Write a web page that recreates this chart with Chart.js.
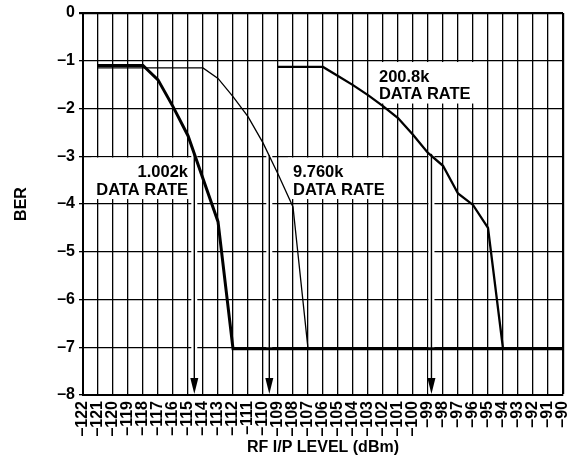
<!DOCTYPE html>
<html lang="en">
<head>
<meta charset="UTF-8">
<title>BER vs RF I/P Level</title>
<script src="https://cdn.jsdelivr.net/npm/chart.js"></script>
<style>
  html, body { margin: 0; padding: 0; background: #fff; }
  #wrap { width: 571px; height: 460px; position: relative; }
</style>
</head>
<body>
<div id="wrap"><canvas id="berChart"></canvas></div>
<script>
// RF input level (dBm) and BER (log10)
const rate1002X = [-121, -118, -117, -116, -115, -113, -112, -90];
const rate1002Y = [-1.1, -1.1, -1.4, -1.96, -2.57, -4.37, -7.03, -7.03];

const rate9760X = [-121, -114, -113, -112, -111, -110, -109, -108, -107];
const rate9760Y = [-1.15, -1.15, -1.37, -1.75, -2.17, -2.72, -3.37, -4.06, -7.03];

const rate2008X = [-109, -106, -105, -104, -103, -102, -101, -100, -99, -98, -97, -96, -95, -94];
const rate2008Y = [-1.13, -1.13, -1.32, -1.51, -1.72, -1.95, -2.2, -2.55, -2.93, -3.2, -3.78, -4.02, -4.5, -7.03];

// sensitivity arrows (x where each curve crosses the marker, from top down to axis)
const arrowX = [-114.58, -109.58, -98.77];
const arrowTop = [-2.95, -2.98, -2.95];

// curve labels
const labelLines = [['1.002k', 'DATA RATE'], ['9.760k', 'DATA RATE'], ['200.8k', 'DATA RATE']];
const labelX = [-115, -108, -102.27];
const labelY = [-3.32, -3.32, -1.32];
const labelAlign = ['right', 'left', 'left'];

const xTickLabels = ['–122', '–121', '–120', '–119', '–118', '–117', '–116', '–115', '–114', '–113', '–112',
  '–111', '–110', '–109', '–108', '–107', '–106', '–105', '–104', '–103', '–102', '–101', '–100',
  '–99', '–98', '–97', '–96', '–95', '–94', '–93', '–92', '–91', '–90'];
const yTickLabels = ['0', '–1', '–2', '–3', '–4', '–5', '–6', '–7', '–8'];

const xMin = -122, xMax = -90, yMin = -8, yMax = 0;

const FONT = "'Liberation Sans', Arial, sans-serif";
const labelFont = 'bold 16.5px ' + FONT;
const lineGap = 17.5;

const toPoints = (xs, ys) => xs.map((v, i) => ({ x: v, y: ys[i] }));

function labelBox(ctx, x, y, i) {
    ctx.font = labelFont;
    const w = Math.max(...labelLines[i].map(t => ctx.measureText(t).width));
    const px = x.getPixelForValue(labelX[i]);
    const cy = y.getPixelForValue(labelY[i]);
    const left = labelAlign[i] === 'right' ? px - w : px;
    return { left: left - 5, top: cy - 14, w: w + 9, h: lineGap + 24, px, cy };
}

const overlay = {
    id: 'overlay',
    beforeDatasetsDraw(chart) {
        const { ctx, scales: { x, y }, chartArea } = chart;
        ctx.save();
        ctx.fillStyle = '#fff';
        labelLines.forEach((lines, i) => {
            const b = labelBox(ctx, x, y, i);
            ctx.fillRect(b.left, b.top, b.w, b.h);
        });
        arrowX.forEach((v, i) => {
            const px = x.getPixelForValue(v);
            const top = y.getPixelForValue(arrowTop[i]);
            ctx.fillRect(px - 3, top, 6, chartArea.bottom - 1.5 - top);
        });
        ctx.restore();
    },
    afterDatasetsDraw(chart) {
        const { ctx, scales: { x, y }, chartArea } = chart;
        ctx.save();
        ctx.strokeStyle = '#000';
        ctx.fillStyle = '#000';
        ctx.lineWidth = 1.4;
        arrowX.forEach((v, i) => {
            const px = x.getPixelForValue(v);
            const top = y.getPixelForValue(arrowTop[i]);
            const tip = chartArea.bottom - 1;
            ctx.beginPath();
            ctx.moveTo(px, top);
            ctx.lineTo(px, tip - 10);
            ctx.stroke();
            ctx.beginPath();
            ctx.moveTo(px - 4, tip - 16);
            ctx.lineTo(px + 4, tip - 16);
            ctx.lineTo(px, tip);
            ctx.closePath();
            ctx.fill();
        });
        labelLines.forEach((lines, i) => {
            const b = labelBox(ctx, x, y, i);
            ctx.font = labelFont;
            ctx.textAlign = labelAlign[i];
            ctx.textBaseline = 'middle';
            lines.forEach((t, k) => ctx.fillText(t, b.px, b.cy + k * lineGap + 1));
        });
        ctx.restore();
    }
};

new Chart(document.getElementById('berChart'), {
    type: 'line',
    data: {
        datasets: [
            { label: '1.002k', data: toPoints(rate1002X, rate1002Y), borderColor: '#000', borderWidth: 3 },
            { label: '9.760k', data: toPoints(rate9760X, rate9760Y), borderColor: '#000', borderWidth: 1.3 },
            { label: '200.8k', data: toPoints(rate2008X, rate2008Y), borderColor: '#000', borderWidth: 2.3 }
        ]
    },
    options: {
        responsive: true,
        maintainAspectRatio: false,
        animation: false,
        layout: { padding: { top: 13, right: 8, left: 0, bottom: 0 } },
        elements: { point: { radius: 0 }, line: { tension: 0 } },
        plugins: { legend: { display: false }, tooltip: { enabled: false } },
        scales: {
            x: {
                type: 'linear',
                min: xMin,
                max: xMax,
                afterFit: s => { s.height = 65; s.paddingLeft = 0; s.paddingRight = 0; },
                ticks: {
                    stepSize: 1,
                    autoSkip: false,
                    minRotation: 90,
                    maxRotation: 90,
                    padding: 6,
                    color: '#000',
                    font: { family: FONT, size: 16, weight: 'bold' },
                    callback: v => xTickLabels[v - xMin]
                },
                grid: {
                    color: '#000',
                    lineWidth: c => (c.tick && c.tick.value === xMax ? 2.2 : 1.3),
                    drawTicks: false
                },
                border: { display: true, color: '#000', width: 2 },
                title: {
                    display: true,
                    text: 'RF I/P LEVEL (dBm)',
                    color: '#000',
                    font: { family: FONT, size: 16, weight: 'bold' },
                    padding: { top: 0, bottom: 3 }
                }
            },
            y: {
                type: 'linear',
                min: yMin,
                max: yMax,
                afterFit: s => { s.width = 83; s.paddingTop = 0; s.paddingBottom = 0; },
                ticks: {
                    stepSize: 1,
                    padding: 4,
                    color: '#000',
                    font: { family: FONT, size: 16, weight: 'bold' },
                    callback: v => yTickLabels[-v]
                },
                grid: {
                    color: '#000',
                    lineWidth: c => (c.tick && c.tick.value === yMax ? 2.2 : 1.3),
                    tickLength: 4
                },
                border: { display: true, color: '#000', width: 2 },
                title: {
                    display: true,
                    text: 'BER',
                    color: '#000',
                    font: { family: FONT, size: 16, weight: 'bold' },
                    padding: { top: 12, bottom: 0 }
                }
            }
        }
    },
    plugins: [overlay]
});
</script>
</body>
</html>
